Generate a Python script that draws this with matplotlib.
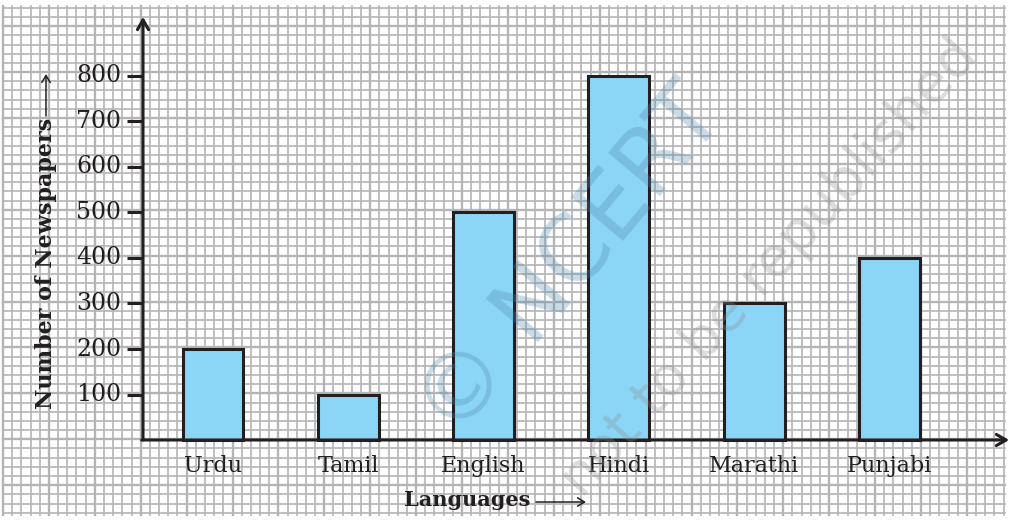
import matplotlib.pyplot as plt
import numpy as np

# data
languages = ['Urdu', 'Tamil', 'English', 'Hindi', 'Marathi', 'Punjabi']
newspapers = [200, 100, 500, 800, 300, 400]
yticks = [100, 200, 300, 400, 500, 600, 700, 800]

BAR = '#8bd5f6'
INK = '#231f20'
GRID = '#b4b4b7'
SERIF = 'DejaVu Serif'

fig = plt.figure(figsize=(10.10, 5.22), dpi=100)

# graph paper background, in pixel coordinates
bg = fig.add_axes([0, 0, 1, 1])
bg.set_xlim(0, 1010)
bg.set_ylim(522, 0)
bg.axis('off')
step = 9.18
xs = 3 + step * np.arange(110)
ys = 7.8 + step * np.arange(56)
for k, x in enumerate(xs):
    bg.plot([x, x], [6, 515], color=GRID, lw=1.7 if k % 5 == 0 else 1.2, zorder=0)
for k, y in enumerate(ys):
    bg.plot([3, 1005], [y, y], color=GRID, lw=1.7 if k % 5 == 2 else 1.2, zorder=0)

# chart axes over the whole figure
ax = fig.add_axes([0, 0, 1, 1])
ax.patch.set_alpha(0)
ax.set_xlim(-1.574, 5.891)
ax.set_ylim(-180.2, 967.0)
for s in ax.spines.values():
    s.set_visible(False)

x = np.arange(len(languages))
ax.bar(x, newspapers, width=0.45, color=BAR, edgecolor=INK, linewidth=2.2, zorder=3)

# watermark (on top of the bars, like the print)
ax.text(572, 262, '© NCERT', transform=bg.transData, rotation=50, rotation_mode='anchor',
        ha='center', va='center', fontsize=66, color='#4f87ad', alpha=0.3,
        family='DejaVu Sans', zorder=5)
ax.text(770, 268, 'not to be republished', transform=bg.transData, rotation=48,
        rotation_mode='anchor', ha='center', va='center', fontsize=40, color='#8c8c8c',
        alpha=0.3, family='DejaVu Sans', zorder=5)

x0 = -0.517
ax.annotate('', xy=(x0, 930), xytext=(x0, 0),
            arrowprops=dict(arrowstyle='->,head_length=0.7,head_width=0.4', lw=2.2, color=INK,
                            shrinkA=0, shrinkB=0), zorder=4)
ax.annotate('', xy=(5.885, 0), xytext=(x0 - 0.01, 0),
            arrowprops=dict(arrowstyle='->,head_length=0.7,head_width=0.4', lw=2.2, color=INK,
                            shrinkA=0, shrinkB=0), zorder=4)

# y ticks drawn as short lines with labels
for v in yticks:
    ax.plot([x0 - 0.12, x0], [v, v], color=INK, lw=2.2, solid_capstyle='butt', zorder=4)
    ax.text(x0 - 0.16, v, str(v), ha='right', va='center', fontsize=17, family=SERIF, color=INK)
ax.set_xticks([])
ax.set_yticks([])

for xi, lab in zip(x, languages):
    ax.text(xi, -57, lab, ha='center', va='center', fontsize=16, family=SERIF, color=INK)

# axis titles
bg.text(467, 500, 'Languages', ha='center', va='center', fontsize=15, fontweight='bold',
        family=SERIF, color=INK)
bg.annotate('', xy=(586, 502), xytext=(536, 502),
            arrowprops=dict(arrowstyle='->,head_length=0.5,head_width=0.3', lw=1.1, color=INK,
                            shrinkA=0, shrinkB=0))
bg.text(46, 263, 'Number of Newspapers', ha='center', va='center', rotation=90, fontsize=16,
        fontweight='bold', family=SERIF, color=INK)
bg.annotate('', xy=(46, 74), xytext=(46, 116),
            arrowprops=dict(arrowstyle='->,head_length=0.5,head_width=0.3', lw=1.1, color=INK,
                            shrinkA=0, shrinkB=0))

fig.savefig('out.png', dpi=100)
